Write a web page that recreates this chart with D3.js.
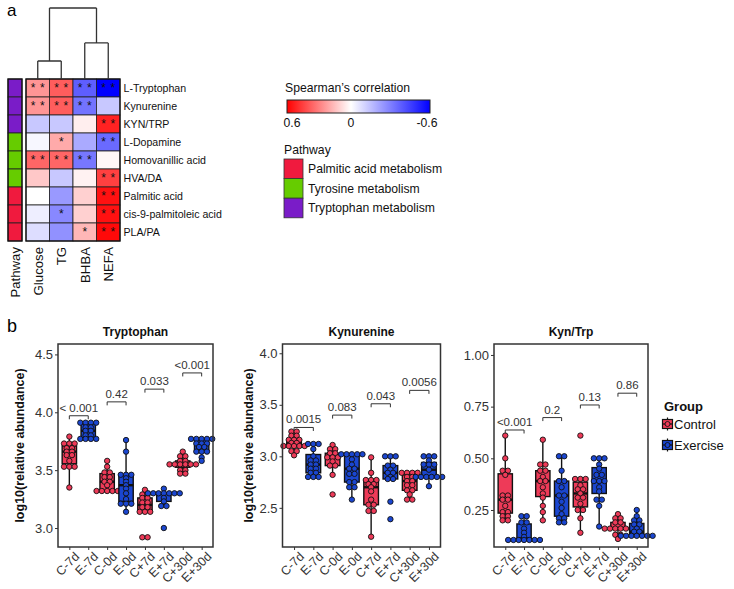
<!DOCTYPE html>
<html><head><meta charset="utf-8">
<script src="https://cdn.jsdelivr.net/npm/d3@7"></script>
<style>body{margin:0;background:#fff;} text{font-family:"Liberation Sans",Arial,sans-serif;}</style>
</head><body><svg id="c" width="734" height="589"></svg>
<script>
// ---------------- DATA: panel a (heatmap) ----------------
const hmRows = ["L-Tryptophan","Kynurenine","KYN/TRP","L-Dopamine","Homovanillic acid","HVA/DA","Palmitic acid","cis-9-palmitoleic acid","PLA/PA"];
const hmCols = ["Glucose","TG","BHBA","NEFA"];
const rowPathway = ["Tryptophan metabolism","Tryptophan metabolism","Tryptophan metabolism","Tyrosine metabolism","Tyrosine metabolism","Tyrosine metabolism","Palmitic acid metabolism","Palmitic acid metabolism","Palmitic acid metabolism"];
const pathwayNames = ["Palmitic acid metabolism","Tyrosine metabolism","Tryptophan metabolism"];
const pathwayColors = ["#F01A3E","#66CC00","#7A1CC8"];
const rhoGlucose = [0.25,0.25,-0.13,-0.02,0.36,0.13,0.0,-0.04,-0.08];
const rhoTG      = [0.38,0.38,-0.13,0.20,0.36,-0.13,-0.24,-0.28,-0.26];
const rhoBHBA    = [-0.38,-0.33,0.04,-0.20,-0.32,0.03,0.11,0.11,0.17];
const rhoNEFA    = [-0.60,-0.13,0.52,-0.35,0.02,0.45,0.56,0.56,0.58];
const sigGlucose = ["**","**","","","**","","","",""];
const sigTG      = ["**","**","","*","**","","","*",""];
const sigBHBA    = ["**","**","","","**","","","","*"];
const sigNEFA    = ["**","","**","**","","**","**","**","**"];
const colorbarTicks = [0.6, 0, -0.6];
const dendroHeights = [0.5, 1.0, 1.97]; // (Glucose,TG), (BHBA,NEFA), root

// ---------------- DATA: panel b (box + dot plots) ----------------
const groups = ["C-7d","E-7d","C-0d","E-0d","C+7d","E+7d","C+30d","E+30d"];
const groupNames = ["Control","Exercise"];
const groupColors = ["#EE3A58","#1A46D0"];

const trpCm7  = [3.79,3.73,3.73,3.73,3.69,3.69,3.66,3.66,3.63,3.63,3.58,3.53,3.53,3.53,3.35];
const trpEm7  = [3.91,3.91,3.91,3.91,3.87,3.87,3.84,3.84,3.80,3.80,3.77,3.77,3.77,3.77];
const trpC0   = [3.58,3.53,3.48,3.48,3.44,3.44,3.40,3.40,3.37,3.32,3.32,3.32,3.32,3.32];
const trpE0   = [3.76,3.66,3.46,3.46,3.46,3.43,3.40,3.37,3.34,3.30,3.25,3.21,3.21,3.21,3.14];
const trpCp7  = [3.33,3.29,3.29,3.26,3.26,3.22,3.22,3.18,3.18,3.14,3.14,3.14,2.92,2.92];
const trpEp7  = [3.34,3.30,3.30,3.30,3.30,3.30,3.30,3.30,3.26,3.23,3.19,3.19,3.00];
const trpCp30 = [3.66,3.62,3.62,3.58,3.58,3.55,3.55,3.55,3.55,3.55,3.55,3.50,3.50,3.47,3.47];
const trpEp30 = [3.77,3.77,3.77,3.77,3.77,3.73,3.73,3.73,3.70,3.70,3.66,3.66,3.66,3.61,3.58];
const trpTicks = [3.0,3.5,4.0,4.5];
const trpP = ["< 0.001","0.42","0.033","<0.001"];
const trpPy = [3.97,4.09,4.20,4.34];

const kynCm7  = [3.24,3.24,3.20,3.20,3.16,3.16,3.16,3.13,3.13,3.10,3.10,3.10,3.10,3.10,3.05,3.05,3.01];
const kynEm7  = [3.12,3.12,3.12,3.07,3.00,2.96,2.96,2.92,2.92,2.88,2.88,2.84,2.84,2.80,2.80,2.80];
const kynC0   = [3.11,3.07,3.07,3.03,3.03,2.99,2.99,2.99,2.95,2.91,2.91,2.82,2.63];
const kynE0   = [3.02,3.02,3.02,3.02,3.02,2.97,2.92,2.88,2.88,2.83,2.83,2.75,2.75,2.70,2.70,2.58];
const kynCp7  = [2.99,2.84,2.77,2.77,2.77,2.73,2.73,2.70,2.66,2.58,2.53,2.53,2.47,2.47,2.22];
const kynEp7  = [3.00,3.00,3.00,2.91,2.91,2.87,2.84,2.84,2.80,2.78,2.78,2.56,2.39];
const kynCp30 = [2.84,2.84,2.84,2.84,2.80,2.80,2.76,2.76,2.72,2.72,2.67,2.67,2.63,2.58,2.58];
const kynEp30 = [3.00,3.00,3.00,2.96,2.92,2.92,2.92,2.87,2.80,2.80,2.80,2.80,2.80,2.80,2.71];
const kynTicks = [2.5,3.0,3.5,4.0];
const kynP = ["0.0015","0.083","0.043","0.0056"];
const kynPy = [3.28,3.40,3.51,3.64];

const ratioCm7  = [0.61,0.50,0.44,0.44,0.42,0.32,0.32,0.30,0.30,0.27,0.24,0.24,0.22,0.22,0.20,0.20];
const ratioEm7  = [0.22,0.22,0.19,0.19,0.16,0.14,0.12,0.105,0.105,0.105,0.105,0.105,0.105,0.105];
const ratioC0   = [0.59,0.47,0.47,0.44,0.44,0.41,0.39,0.39,0.36,0.33,0.31,0.27,0.24,0.20];
const ratioE0   = [0.51,0.51,0.44,0.39,0.39,0.36,0.32,0.32,0.29,0.26,0.23,0.21,0.21,0.19,0.19];
const ratioCp7  = [0.61,0.40,0.40,0.40,0.37,0.35,0.35,0.33,0.31,0.31,0.28,0.25,0.25,0.21,0.14];
const ratioEp7  = [0.50,0.50,0.50,0.47,0.45,0.42,0.42,0.39,0.39,0.39,0.36,0.34,0.30,0.30,0.27,0.17];
const ratioCp30 = [0.23,0.21,0.21,0.19,0.19,0.16,0.16,0.16,0.16,0.16,0.16,0.13,0.13,0.11];
const ratioEp30 = [0.25,0.22,0.20,0.20,0.18,0.18,0.16,0.145,0.145,0.125,0.125,0.125,0.125,0.125,0.125,0.125];
const ratioTicks = [0.25,0.50,0.75,1.00];
const ratioP = ["<0.001","0.2","0.13","0.86"];
const ratioPy = [0.637,0.697,0.758,0.815];

// ---------------- DRAW ----------------
const svg = d3.select("#c");
const FONT = '"Liberation Sans",Arial,sans-serif';
const hyphen = s => s.replace("\u2212","-");

// panel labels
svg.append("text").attr("x",7).attr("y",16).attr("font-size",17).text("a");
svg.append("text").attr("x",7).attr("y",332).attr("font-size",18).text("b");

// heatmap scales
const xCol = d3.scaleBand().domain(hmCols).range([26,120]);
const yRow = d3.scaleBand().domain(hmRows).range([79,241]);
const rhoByCol = [rhoGlucose, rhoTG, rhoBHBA, rhoNEFA];
const sigByCol = [sigGlucose, sigTG, sigBHBA, sigNEFA];
const corrColor = d3.scaleLinear().domain([-0.6,0,0.6]).range(["#0000FF","#FFFFFF","#FF0000"]).clamp(true);
const pathColor = d3.scaleOrdinal().domain(pathwayNames).range(pathwayColors);

const cells = [];
hmCols.forEach((c,ci)=>hmRows.forEach((r,ri)=>cells.push({c,r,v:rhoByCol[ci][ri],s:sigByCol[ci][ri]})));
const hm = svg.append("g");
hm.selectAll("rect.cell").data(cells).join("rect")
  .attr("x",d=>xCol(d.c)).attr("y",d=>yRow(d.r))
  .attr("width",xCol.bandwidth()).attr("height",yRow.bandwidth())
  .attr("fill",d=>corrColor(d.v)).attr("stroke","#222").attr("stroke-width",0.8);
hm.append("rect").attr("x",26).attr("y",79).attr("width",94).attr("height",162)
  .attr("fill","none").attr("stroke","#111").attr("stroke-width",1.3);
// stars
cells.forEach(d=>{
  const cx = xCol(d.c)+xCol.bandwidth()/2, yy = yRow(d.r)+12.5;
  const n = d.s.length;
  for(let i=0;i<n;i++){
    hm.append("text").attr("x",cx+(i-(n-1)/2)*9.2).attr("y",yy)
      .attr("text-anchor","middle").attr("font-size",12).attr("fill","#111").text("*");
  }
});
// pathway column
hm.selectAll("rect.pw").data(hmRows).join("rect")
  .attr("x",8).attr("y",d=>yRow(d)).attr("width",14).attr("height",yRow.bandwidth())
  .attr("fill",(d,i)=>pathColor(rowPathway[i])).attr("stroke","#222").attr("stroke-width",0.8);
hm.append("rect").attr("x",8).attr("y",79).attr("width",14).attr("height",162)
  .attr("fill","none").attr("stroke","#111").attr("stroke-width",1.3);
// row labels
hm.selectAll("text.rl").data(hmRows).join("text")
  .attr("x",123.5).attr("y",d=>yRow(d)+yRow.bandwidth()/2).attr("dy","0.35em")
  .attr("font-size",10.6).attr("fill","#111").text(d=>d);
// column labels
const colLabels = [{t:"Pathway",x:15}].concat(hmCols.map(c=>({t:c,x:xCol(c)+xCol.bandwidth()/2})));
colLabels.forEach(d=>{
  hm.append("text").attr("transform",`translate(${d.x},247) rotate(-90)`)
    .attr("text-anchor","end").attr("dy","0.36em").attr("font-size",13.2).attr("fill","#111").text(d.t);
});
// dendrogram
const yDend = d3.scaleLinear().domain([0,dendroHeights[2]]).range([79,8]);
const tree = {h:dendroHeights[2], children:[
  {h:dendroHeights[0], children:[{leaf:"Glucose"},{leaf:"TG"}]},
  {h:dendroHeights[1], children:[{leaf:"BHBA"},{leaf:"NEFA"}]}]};
const root = d3.hierarchy(tree);
root.eachAfter(n=>{
  n.px = n.children ? d3.mean(n.children,c=>c.px) : xCol(n.data.leaf)+xCol.bandwidth()/2;
  n.py = yDend(n.data.h||0);
});
root.each(n=>{
  if(!n.children) return;
  const xs = n.children.map(c=>c.px);
  let p = `M${d3.min(xs)},${n.py}H${d3.max(xs)}`;
  n.children.forEach(c=>{ p += `M${c.px},${n.py}V${c.py}`; });
  hm.append("path").attr("d",p).attr("fill","none").attr("stroke","#333").attr("stroke-width",1.3);
});

// colour bar legend
svg.append("text").attr("x",285).attr("y",92).attr("font-size",12.2).attr("fill","#111").text("Spearman\u2019s correlation");
const grad = svg.append("defs").append("linearGradient").attr("id","cg");
const cbX = d3.scaleLinear().domain([0.6,0,-0.6]).range([292,351,427]);
[[0,"#FF0000"],[(351-287)/143,"#FFFFFF"],[1,"#0000FF"]].forEach(s=>grad.append("stop").attr("offset",s[0]).attr("stop-color",s[1]));
svg.append("rect").attr("x",287).attr("y",100).attr("width",143).attr("height",13).attr("fill","url(#cg)").attr("stroke","#222").attr("stroke-width",1);
colorbarTicks.forEach(t=>{
  svg.append("text").attr("x",cbX(t)).attr("y",127).attr("text-anchor","middle").attr("font-size",12.2).attr("fill","#111")
    .text(t===0?"0":hyphen(d3.format(".1f")(t)));
});
// pathway legend
svg.append("text").attr("x",284).attr("y",154).attr("font-size",12.2).attr("fill","#111").text("Pathway");
pathwayNames.forEach((p,i)=>{
  const yy = 159 + i*19.6;
  svg.append("rect").attr("x",284).attr("y",yy).attr("width",19).attr("height",19.6)
    .attr("fill",pathColor(p)).attr("stroke","#333").attr("stroke-width",0.8);
  svg.append("text").attr("x",308).attr("y",yy+9.8).attr("dy","0.35em").attr("font-size",12.2).attr("fill","#111").text(p);
});

// ---------- box/dot panels ----------
function drawPanel(cfg){
  const g = svg.append("g");
  const x = d3.scalePoint().domain(groups).range([cfg.x0,cfg.x1]).padding(0.6);
  const y = d3.scaleLinear().domain(cfg.domain).range([547,344]);
  const step = x.step();
  const boxW = step*0.76, dotD = 5.3;
  cfg.data.forEach((vals,i)=>{
    const gname = groups[i], col = groupColors[i%2];
    const s = vals.slice().sort(d3.ascending);
    const q1 = d3.quantile(s,0.25), med = d3.quantile(s,0.5), q3 = d3.quantile(s,0.75);
    const iqr = q3-q1;
    const lo = d3.min(s.filter(v=>v>=q1-1.5*iqr)), hi = d3.max(s.filter(v=>v<=q3+1.5*iqr));
    const cx = x(gname);
    g.append("line").attr("x1",cx).attr("x2",cx).attr("y1",y(hi)).attr("y2",y(q3)).attr("stroke","#111").attr("stroke-width",1.4);
    g.append("line").attr("x1",cx).attr("x2",cx).attr("y1",y(q1)).attr("y2",y(lo)).attr("stroke","#111").attr("stroke-width",1.4);
    g.append("rect").attr("x",cx-boxW/2).attr("y",y(q3)).attr("width",boxW).attr("height",Math.max(0.5,y(q1)-y(q3)))
      .attr("fill",col).attr("stroke","#111").attr("stroke-width",1.4);
    g.append("line").attr("x1",cx-boxW/2).attr("x2",cx+boxW/2).attr("y1",y(med)).attr("y2",y(med)).attr("stroke","#111").attr("stroke-width",2.4);
    const bins = d3.rollups(vals, v=>v.length, v=>v);
    bins.forEach(([v,n])=>{
      for(let k=0;k<n;k++){
        g.append("circle").attr("cx",cx+(k-(n-1)/2)*dotD).attr("cy",y(v)).attr("r",2.7)
          .attr("fill",col).attr("stroke","#111").attr("stroke-width",0.9);
      }
    });
  });
  // brackets
  cfg.pLabels.forEach((lab,k)=>{
    const xa = x(groups[2*k]), xb = x(groups[2*k+1]), yy = y(cfg.pY[k]);
    g.append("path").attr("d",`M${xa},${yy+3.5}V${yy}H${xb}V${yy+3.5}`).attr("fill","none").attr("stroke","#333").attr("stroke-width",1);
    g.append("text").attr("x",(xa+xb)/2).attr("y",yy-4).attr("text-anchor","middle").attr("font-size",11.5).attr("fill","#333").text(lab);
  });
  // border
  g.append("rect").attr("x",cfg.x0).attr("y",344).attr("width",cfg.x1-cfg.x0).attr("height",203)
    .attr("fill","none").attr("stroke","#333").attr("stroke-width",1.5);
  // axes
  const ya = g.append("g").attr("transform",`translate(${cfg.x0},0)`)
    .call(d3.axisLeft(y).tickValues(cfg.ticks).tickSize(3).tickPadding(2).tickFormat(d3.format(cfg.fmt)));
  ya.select(".domain").remove();
  ya.selectAll("line").attr("stroke","#333");
  ya.selectAll("text").attr("font-size",13).attr("fill","#333").attr("font-family",FONT);
  const xa = g.append("g").attr("transform",`translate(0,547)`)
    .call(d3.axisBottom(x).tickSize(3).tickPadding(2));
  xa.select(".domain").remove();
  xa.selectAll("line").attr("stroke","#333");
  xa.selectAll("text").attr("font-size",12.5).attr("fill","#333").attr("font-family",FONT)
    .attr("text-anchor","end").attr("transform","translate(4,4) rotate(-45)").attr("dy","0.71em").attr("y",0);
  // title
  g.append("text").attr("x",(cfg.x0+cfg.x1)/2).attr("y",336).attr("text-anchor","middle")
    .attr("font-size",12).attr("font-weight","bold").attr("fill","#111").text(cfg.title);
  if(cfg.ytitle){
    g.append("text").attr("transform",`translate(${cfg.ytx},445.5) rotate(-90)`).attr("text-anchor","middle")
      .attr("dy","0.35em").attr("font-size",12.5).attr("font-weight","bold").attr("fill","#111").text(cfg.ytitle);
  }
}

drawPanel({x0:58,x1:213,domain:[2.836,4.59],ticks:trpTicks,fmt:".1f",title:"Tryptophan",
  data:[trpCm7,trpEm7,trpC0,trpE0,trpCp7,trpEp7,trpCp30,trpEp30],pLabels:trpP,pY:trpPy,
  ytitle:"log10(relative abundance)",ytx:20});
drawPanel({x0:282.5,x1:440.5,domain:[2.12,4.09],ticks:kynTicks,fmt:".1f",title:"Kynurenine",
  data:[kynCm7,kynEm7,kynC0,kynE0,kynCp7,kynEp7,kynCp30,kynEp30],pLabels:kynP,pY:kynPy,
  ytitle:"log10(relative abundance)",ytx:249});
drawPanel({x0:494,x1:648,domain:[0.071,1.053],ticks:ratioTicks,fmt:".2f",title:"Kyn/Trp",
  data:[ratioCm7,ratioEm7,ratioC0,ratioE0,ratioCp7,ratioEp7,ratioCp30,ratioEp30],pLabels:ratioP,pY:ratioPy});

// group legend
svg.append("text").attr("x",664).attr("y",406).attr("dy","0.35em").attr("font-size",13).attr("font-weight","bold").attr("fill","#111").text("Group");
groupNames.forEach((n,i)=>{
  const cy = 424 + i*21, cx = 667.5;
  svg.append("line").attr("x1",cx).attr("x2",cx).attr("y1",cy-6.5).attr("y2",cy+6.5).attr("stroke","#111").attr("stroke-width",1.2);
  svg.append("rect").attr("x",cx-5).attr("y",cy-4.5).attr("width",10).attr("height",9).attr("fill",groupColors[i]).attr("stroke","#111").attr("stroke-width",1.2);
  svg.append("line").attr("x1",cx-5).attr("x2",cx+5).attr("y1",cy).attr("y2",cy).attr("stroke","#111").attr("stroke-width",1.2);
  svg.append("circle").attr("cx",cx).attr("cy",cy).attr("r",2.5).attr("fill",groupColors[i]).attr("stroke","#111").attr("stroke-width",0.9);
  svg.append("text").attr("x",674).attr("y",cy).attr("dy","0.35em").attr("font-size",13).attr("fill","#111").text(n);
});
</script></body></html>
